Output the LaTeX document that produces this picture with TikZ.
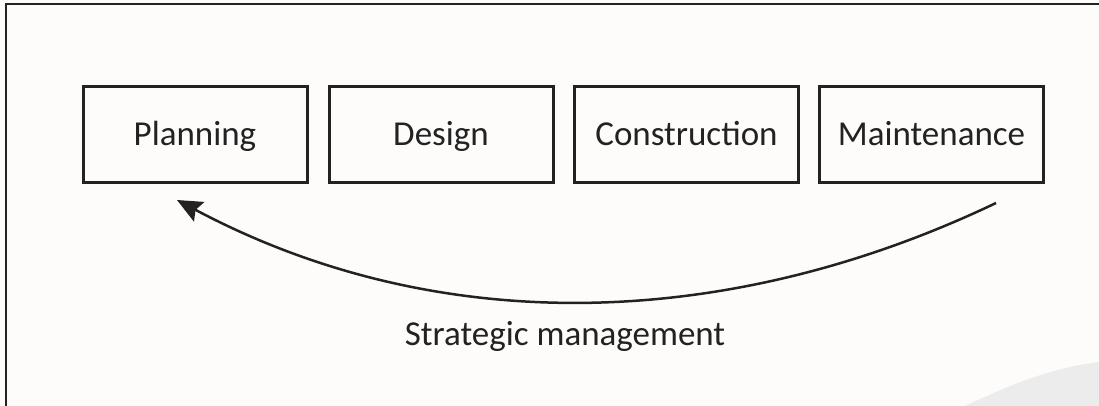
\documentclass[tikz,border=0pt]{standalone}
\usepackage{fontspec}
\setmainfont{Carlito}
\usetikzlibrary{arrows.meta}
\definecolor{ink}{HTML}{222222}
\definecolor{paper}{HTML}{FDFCFB}
\definecolor{swoosh}{HTML}{ECECEC}
\tikzset{
  stage/.style={draw=ink, line width=3pt, rectangle, minimum width=224pt, minimum height=95pt,
    text height=22pt, text depth=0pt, inner sep=0pt, text=ink,
    font=\fontsize{35}{42}\selectfont},
  cycleArrow/.style={draw=ink, line width=2.5pt, -{Stealth[length=25pt,width=22pt,inset=4pt]}},
  caption/.style={text=ink, font=\fontsize{35}{42}\selectfont, inner sep=0pt}
}
\begin{document}
\begin{tikzpicture}[x=1pt,y=-1pt]
\useasboundingbox (0,0) rectangle (1099,406);
\fill[paper] (0,0) rectangle (1099,406);
\fill[swoosh] (965,406) .. controls (1010,385) and (1050,368) .. (1099,362) -- (1099,406) -- cycle;
\draw[ink, line width=2pt] (6,420) -- (6,4) -- (1110,4);
\node[stage] (plan) at (195,134.5) {Planning};
\node[stage] (design) at (441,134.5) {Design};
\node[stage] (constr) at (686.5,134.5) {Construction};
\node[stage] (maint) at (931.5,134.5) {Maintenance};
\coordinate (arrStart) at (996,203);
\coordinate (arrEnd) at (177,200);
\draw[cycleArrow] (arrStart) .. controls (730,330) and (440,340) .. (arrEnd);
\node[caption, anchor=base] (strat) at (565,345) {Strategic management};
\end{tikzpicture}
\end{document}
